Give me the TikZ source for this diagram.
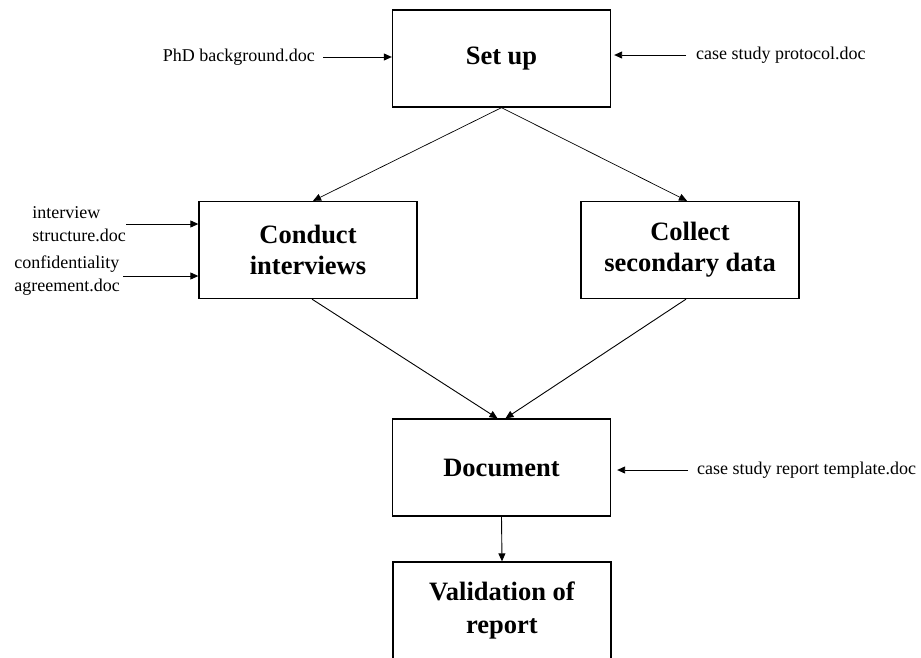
\documentclass[tikz,border=0pt]{standalone}
\usepackage{fontspec}
\setmainfont{Liberation Serif}
\usetikzlibrary{arrows.meta,calc}
\begin{document}
\begin{tikzpicture}[x=1pt,y=-1pt,
  stagebox/.style={draw,line width=1.3pt,inner sep=0pt,align=center,
    minimum width=218pt,minimum height=97pt,
    font=\fontsize{26.5}{31}\selectfont\bfseries},
  docname/.style={inner sep=0pt,font=\fontsize{18}{23}\selectfont},
  flow/.style={line width=0.9pt,-{Triangle[length=8pt,width=7pt]}},
  thinflow/.style={line width=0.7pt,-{Triangle[length=8pt,width=7pt]}}]
  % page frame
  \clip (0,0) rectangle (921,657);
  \useasboundingbox (0,0) rectangle (921,657);

  % stages
  \node[stagebox] (setup) at (501.5,58.5) {Set up};
  \node[stagebox] (conduct) at (308,250) {Conduct\\interviews};
  \node[stagebox] (collect) at (690,250) {Collect\\secondary data};
  \node[stagebox] (document) at (501.5,467.5) {Document};
  \node[stagebox,font=\fontsize{26.5}{33}\selectfont\bfseries] (validation) at (502,610.5) {Validation of\\report};

  % input documents
  \node[docname,anchor=east] (phd) at (315,57) {PhD background.doc};
  \node[docname,anchor=west] (protocol) at (696,55) {case study protocol.doc};
  \node[docname,anchor=east,align=left] (structure) at (126,224) {interview\\structure.doc};
  \node[docname,anchor=east,align=left] (agreement) at (120,276) {confidentiality\\agreement.doc};
  \node[docname,anchor=west] (template) at (697,470) {case study report template.doc};

  % flow between stages
  \draw[thinflow] (setup.south) -- ($(conduct.north)+(5,0)$);
  \draw[thinflow] (setup.south) -- ($(collect.north)+(-3,0)$);
  \draw[flow] ($(conduct.south)+(4,0)$) -- ($(document.north)+(-4,0)$);
  \draw[flow] ($(collect.south)+(-4,0)$) -- ($(document.north)+(4,0)$);
  \draw[flow] (document.south) -- (validation.north);

  % documents feeding the stages
  \draw[flow,shorten <=8pt] (phd.east) -- (phd.east -| setup.west);
  \draw[flow,shorten <=10pt,shorten >=3pt] (protocol.west) -- (protocol.west -| setup.east);
  \draw[flow] (structure.east) -- (structure.east -| conduct.west);
  \draw[flow,shorten <=3pt] (agreement.east) -- (agreement.east -| conduct.west);
  \draw[flow,shorten <=9pt,shorten >=6pt] (template.west) -- (template.west -| document.east);
\end{tikzpicture}
\end{document}
